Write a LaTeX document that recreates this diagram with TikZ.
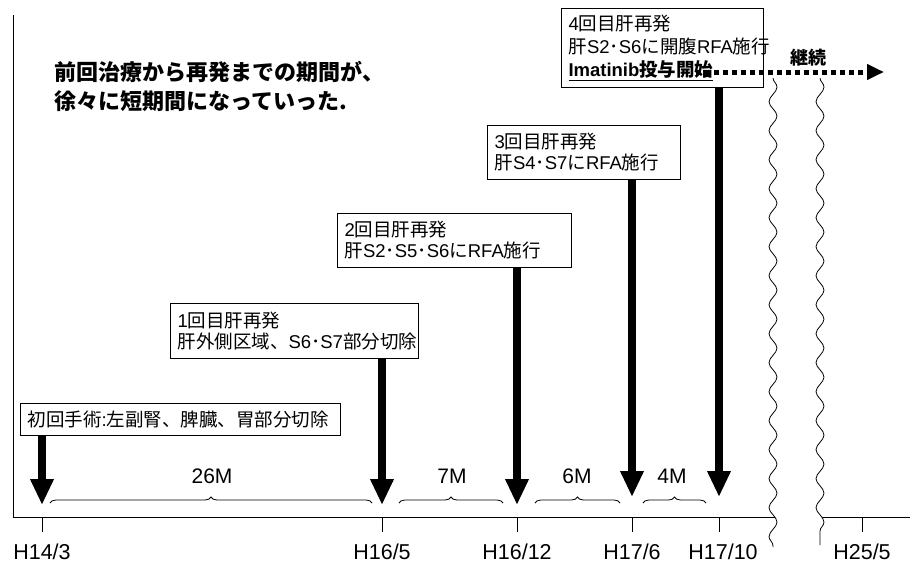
\documentclass[tikz,border=0pt]{standalone}
\usepackage{fontspec}
\setmainfont{Noto Sans CJK JP}
\newfontfamily\lat{Liberation Sans}
\newcommand\latn[1]{{\lat #1}}
\usetikzlibrary{arrows.meta,decorations.pathreplacing,decorations.pathmorphing}
\tikzset{
  evbox/.style={draw,line width=1pt,anchor=north west,align=left,inner xsep=7pt,inner ysep=0pt,font=\fontsize{18.5}{21}\selectfont},
  bigarrow/.style={line width=8pt,-{Triangle[width=22pt,length=26pt]}},
  mbrace/.style={decorate,decoration={brace,amplitude=6pt},line width=0.8pt},
  wavy/.style={decorate,decoration={snake,segment length=29pt,amplitude=4pt},line width=0.8pt},
  axlabel/.style={font=\lat\fontsize{21.5}{21.5}\selectfont},
  mlabel/.style={font=\lat\fontsize{21}{21}\selectfont},
}
\begin{document}
\begin{tikzpicture}[x=1pt,y=-1pt]
\useasboundingbox (0,0) rectangle (910,565);
% frame and axis
\coordinate (ftop) at (13,15);
\coordinate (forig) at (13,517);
\coordinate (abreak1) at (775,517);
\coordinate (abreak2) at (822,517);
\coordinate (aend) at (910,517);
\draw[line width=1pt] (ftop) -- (forig) -- (abreak1);
\draw[line width=1pt] (abreak2) -- (aend);
% wavy breaks
\coordinate (w1a) at (773,78); \coordinate (w1b) at (773,547);
\coordinate (w2a) at (820,78); \coordinate (w2b) at (820,545);
\draw[wavy] (w1a) -- (w1b);
\draw[wavy] (w2a) -- (w2b);
% ticks and labels
\foreach \n/\x in {a/42,b/382,c/517,d/632,e/719,f/862}{
  \coordinate (tk\n) at (\x,517);
  \coordinate (tb\n) at (\x,532);
  \draw[line width=1pt] (tk\n) -- (tb\n);
}
\node[axlabel] (la) at (42,552) {H14/3};
\node[axlabel] (lb) at (382,552) {H16/5};
\node[axlabel] (lc) at (517,552) {H16/12};
\node[axlabel] (ld) at (632,552) {H17/6};
\node[axlabel] (le) at (723,552) {H17/10};
\node[axlabel] (lf) at (862,552) {H25/5};
% heading
\node[anchor=west,align=left,font=\fontsize{22}{29}\selectfont\bfseries] (head) at (51,86)
  {前回治療から再発までの期間が、\\徐々に短期間になっていった.};
% boxes
\node[evbox,text width=306pt,minimum height=32pt] (b0) at (20,403) {初回手術\latn{:}左副腎、脾臓、胃部分切除};
\node[evbox,text width=234pt,minimum height=55pt] (b1) at (170,303) {\latn{1}回目肝再発\\肝外側区域、\latn{S6}･\latn{S7}部分切除};
\node[evbox,text width=220pt,minimum height=54pt] (b2) at (337,213) {\latn{2}回目肝再発\\肝\latn{S2}･\latn{S5}･\latn{S6}に\latn{RFA}施行};
\node[evbox,text width=179pt,minimum height=54pt] (b3) at (487,125) {\latn{3}回目肝再発\\肝\latn{S4}･\latn{S7}に\latn{RFA}施行};
\node[evbox,text width=188pt,minimum height=79pt,font=\fontsize{18.5}{23}\selectfont] (b4) at (561,8) {\latn{4}回目肝再発\\肝\latn{S2}･\latn{S6}に開腹\latn{RFA}施行\\\textbf{\underline{\latn{Imatinib}投与開始}}};
% arrows
\coordinate (p0) at (42,505);
\coordinate (p1) at (382,505);
\coordinate (p2) at (517,505);
\coordinate (p3) at (632,497);
\coordinate (p4) at (719,497);
\draw[bigarrow] (b0.south -| p0) -- (p0);
\draw[bigarrow] (b1.south -| p1) -- (p1);
\draw[bigarrow] (b2.south -| p2) -- (p2);
\draw[bigarrow] (b3.south -| p3) -- (p3);
\draw[bigarrow] (b4.south -| p4) -- (p4);
% braces
\coordinate (br0a) at (50,503); \coordinate (br0b) at (372,503);
\coordinate (br1a) at (399,503); \coordinate (br1b) at (503,503);
\coordinate (br2a) at (535,503); \coordinate (br2b) at (620,503);
\coordinate (br3a) at (643,503); \coordinate (br3b) at (706,503);
\draw[mbrace] (br0a) -- (br0b);
\draw[mbrace] (br1a) -- (br1b);
\draw[mbrace] (br2a) -- (br2b);
\draw[mbrace] (br3a) -- (br3b);
\node[mlabel] (m0) at (212,476) {26M};
\node[mlabel] (m1) at (452,476) {7M};
\node[mlabel] (m2) at (577,476) {6M};
\node[mlabel] (m3) at (672,476) {4M};
% continuation
\coordinate (ds) at (696,72);
\coordinate (de) at (884,72);
\draw[line width=5pt,dash pattern=on 5pt off 4pt,-{Triangle[width=15pt,length=17pt]}] (ds) -- (de);
\node[font=\fontsize{18}{18}\selectfont\bfseries] (kz) at (808,58) {継続};
\end{tikzpicture}
\end{document}
